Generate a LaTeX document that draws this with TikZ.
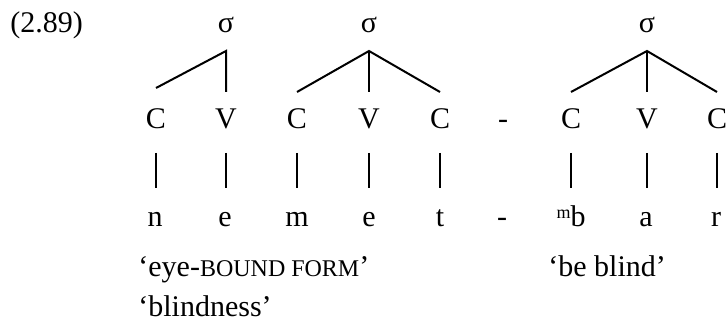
\documentclass[tikz,border=0pt]{standalone}
\usepackage{fontspec}
\setmainfont{Liberation Serif}
\begin{document}
\begin{tikzpicture}[x=0.5pt,y=-0.5pt,
  txt/.style={inner sep=0pt, anchor=base, font=\fontsize{15}{18}\selectfont},
  branch/.style={line width=1pt},
  bar/.style={line width=0.7pt}]
\useasboundingbox (0,0) rectangle (728,331);
% label
\node[txt, anchor=base west] (ex) at (10,33) {(2.89)};
% syllables
\node[txt] (s1) at (226,33) {σ};
\node[txt] (s2) at (369,33) {σ};
\node[txt] (s3) at (647,33) {σ};
% CV tier
\node[txt] (c1) at (156,129) {C};
\node[txt] (v1) at (226,129) {V};
\node[txt] (c2) at (297,129) {C};
\node[txt] (v2) at (369,129) {V};
\node[txt] (c3) at (440,129) {C};
\node[txt] (d1) at (503,129) {-};
\node[txt] (c4) at (571,129) {C};
\node[txt] (v3) at (647,129) {V};
\node[txt] (c5) at (717,129) {C};
% segments
\node[txt] (l1) at (155,227) {n};
\node[txt] (l2) at (225,227) {e};
\node[txt] (l3) at (297,227) {m};
\node[txt] (l4) at (369,227) {e};
\node[txt] (l5) at (440,227) {t};
\node[txt] (d2) at (502,227) {-};
\node[txt] (l6) at (571,227) {\raisebox{0.62ex}{\fontsize{9}{10}\selectfont m}b};
\node[txt] (l7) at (646,227) {a};
\node[txt] (l8) at (716,227) {r};
% glosses
\node[txt, anchor=base west] (g1) at (138,277) {‘eye-{\fontsize{12}{14}\selectfont BOUND FORM}’};
\node[txt, anchor=base west] (g2) at (548,277) {‘be blind’};
\node[txt, anchor=base west] (g3) at (138,316) {‘blindness’};
% branches
\coordinate (a1) at (s1.south |- 0,51);
\coordinate (a2) at (s2.south |- 0,51);
\coordinate (a3) at (s3.south |- 0,51);
\draw[branch] (c1.north |- 0,88) -- (a1) -- (a1 |- 0,92);
\draw[branch] (c2.north |- 0,92) -- (a2) -- (c3.north |- 0,92);
\draw[branch] (a2) -- (a2 |- 0,92);
\draw[branch] (c4.north |- 0,92) -- (a3) -- (c5.north |- 0,92);
\draw[branch] (a3) -- (a3 |- 0,92);
% association bars
\foreach \u/\l in {c1/l1,v1/l2,c2/l3,v2/l4,c3/l5,c4/l6,v3/l7,c5/l8}
  \draw[bar] (\u.south |- 0,153) -- (\u.south |- 0,188);
\end{tikzpicture}
\end{document}
